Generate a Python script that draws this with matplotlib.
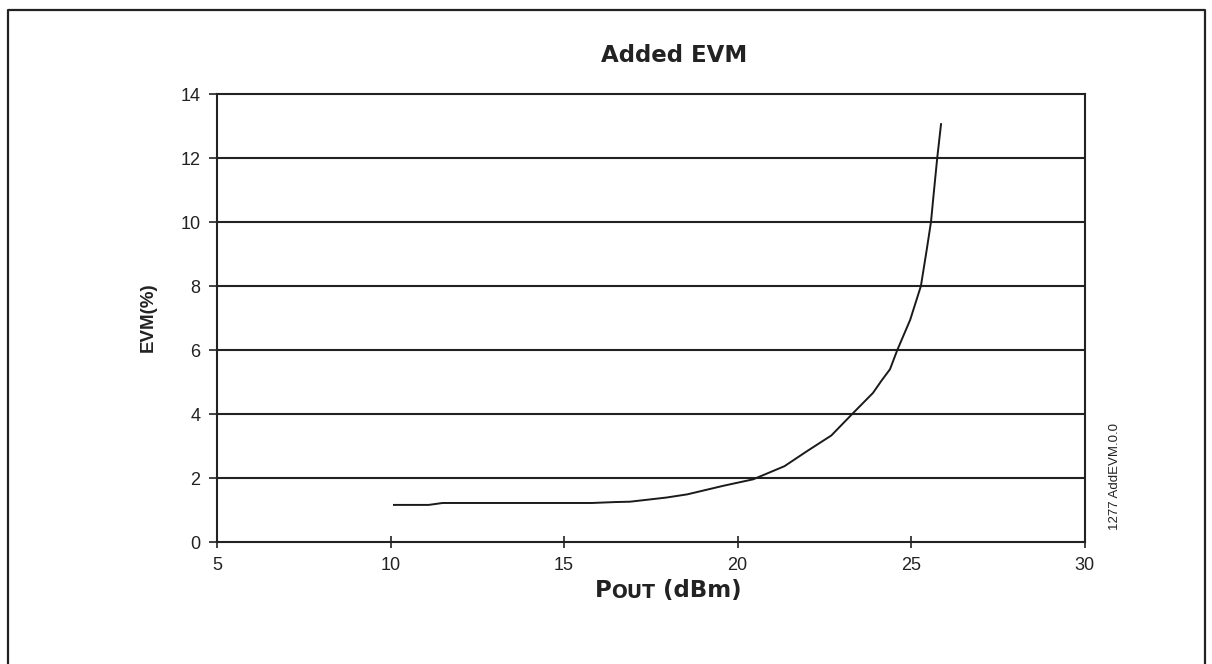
import matplotlib.pyplot as plt
from matplotlib.lines import Line2D

# data
pout = [10.1, 11.1, 11.5, 15.8, 16.5, 16.9, 17.95, 18.55, 19.6, 20.45, 21.35,
        22.0, 22.7, 23.3, 23.9, 24.15, 24.39, 24.6, 24.97, 25.28, 25.45,
        25.57, 25.65, 25.75, 25.86]
evm = [1.16, 1.16, 1.22, 1.22, 1.25, 1.26, 1.39, 1.49, 1.76, 1.96, 2.37,
       2.84, 3.33, 4.0, 4.66, 5.05, 5.4, 6.0, 6.94, 8.0, 9.15,
       10.0, 10.9, 12.0, 13.06]
x_ticks = [5, 10, 15, 20, 25, 30]
y_ticks = [0, 2, 4, 6, 8, 10, 12, 14]

plt.rcParams['font.family'] = ['Liberation Sans', 'DejaVu Sans']

fig = plt.figure(figsize=(12.12, 6.64), dpi=100)
ax = fig.add_axes([0.179, 0.1837, 0.716, 0.6747])

ax.plot(pout, evm, color='#1a1a1a', linewidth=1.4)

ax.set_xlim(5, 30)
ax.set_ylim(0, 14)
ax.set_xticks(x_ticks)
ax.set_yticks(y_ticks)
for y in y_ticks[1:-1]:
    ax.axhline(y, color='#222222', linewidth=1.5, zorder=0)

for s in ax.spines.values():
    s.set_linewidth(1.5)
    s.set_color('#222222')

ax.tick_params(axis='x', direction='inout', length=8, width=1.2,
               labelsize=13, pad=7, colors='#222222')
ax.tick_params(axis='y', direction='out', length=6, width=1.2,
               labelsize=13, pad=6, colors='#222222')

# title and axis labels
fig.text(0.556, 0.917, 'Added EVM', ha='center', va='center',
         fontsize=16.5, fontweight='bold', family='DejaVu Sans', color='#222222')
fig.text(0.122, 0.522, 'EVM(%)', rotation=90, ha='center', va='center',
         fontsize=13.5, fontweight='bold', color='#222222')

t1 = fig.text(0.4905, 0.101, 'P', ha='left', va='baseline', fontsize=16.5,
              fontweight='bold', family='DejaVu Sans', color='#222222')
t2 = ax.annotate('OUT', xy=(1, 0), xycoords=t1, ha='left', va='bottom',
                 fontsize=13.5, fontweight='bold', family='DejaVu Sans',
                 color='#222222', annotation_clip=False)
ax.annotate(' (dBm)', xy=(1, 0), xycoords=t2, ha='left', va='bottom',
            fontsize=16.5, fontweight='bold', family='DejaVu Sans',
            color='#222222', annotation_clip=False)

fig.text(0.920, 0.282, '1277 AddEVM.0.0', rotation=90, ha='center',
         va='center', fontsize=9.5, color='#222222')

# outer frame (left, top, right; bottom is cut off)
fx0, fx1, fy1 = 8 / 1212, 1205 / 1212, 1 - 9.5 / 664
fig.add_artist(Line2D([fx0, fx0, fx1, fx1], [0, fy1, fy1, 0],
                      transform=fig.transFigure, color='#222222', linewidth=1.6))

fig.savefig('out.png', dpi=100)
